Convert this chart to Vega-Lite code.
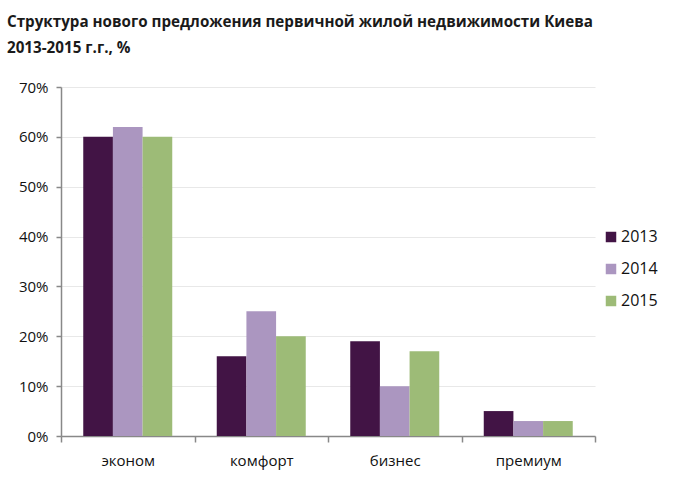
{
  "$schema": "https://vega.github.io/schema/vega-lite/v6.json",
  "autosize": "none",
  "width": 534,
  "height": 349,
  "padding": {"left": 61, "top": 87, "right": 86, "bottom": 51},
  "background": "white",
  "title": {
    "text": ["Структура нового предложения первичной жилой недвижимости Киева", "2013-2015 г.г., %"],
    "anchor": "start",
    "frame": "group",
    "dx": -54,
    "offset": 24,
    "font": "Open Sans",
    "fontSize": 15.2,
    "fontWeight": "bold",
    "color": "#1a1a1a",
    "lineHeight": 26
  },
  "config": {
    "view": {"stroke": "transparent"},
    "axis": {"labelFont": "Open Sans", "labelColor": "#111", "labelFontSize": 15, "titleFont": "Open Sans"},
    "legend": {"labelFont": "Open Sans"}
  },
  "data": {
    "values": [
      {"segment": "эконом", "year": "2013", "share": 60},
      {"segment": "эконом", "year": "2014", "share": 62},
      {"segment": "эконом", "year": "2015", "share": 60},
      {"segment": "комфорт", "year": "2013", "share": 16},
      {"segment": "комфорт", "year": "2014", "share": 25},
      {"segment": "комфорт", "year": "2015", "share": 20},
      {"segment": "бизнес", "year": "2013", "share": 19},
      {"segment": "бизнес", "year": "2014", "share": 10},
      {"segment": "бизнес", "year": "2015", "share": 17},
      {"segment": "премиум", "year": "2013", "share": 5},
      {"segment": "премиум", "year": "2014", "share": 3},
      {"segment": "премиум", "year": "2015", "share": 3}
    ]
  },
  "mark": {"type": "bar"},
  "encoding": {
    "x": {
      "field": "segment",
      "type": "nominal",
      "sort": ["эконом", "комфорт", "бизнес", "премиум"],
      "scale": {"paddingInner": 0, "paddingOuter": 0},
      "axis": {
        "title": null,
        "labelAngle": 0,
        "labelPadding": 11,
        "domainColor": "#888",
        "domainWidth": 1.5,
        "tickColor": "#888",
        "tickWidth": 1.5,
        "tickSize": 6,
        "tickBand": "extent",
        "grid": false
      }
    },
    "xOffset": {"field": "year", "type": "nominal", "scale": {"paddingInner": 0, "paddingOuter": 0.75}},
    "y": {
      "field": "share",
      "type": "quantitative",
      "scale": {"domain": [0, 70]},
      "axis": {
        "title": null,
        "values": [0, 10, 20, 30, 40, 50, 60, 70],
        "labelExpr": "datum.value + '%'",
        "labelPadding": 8,
        "domainColor": "#888",
        "domainWidth": 1.5,
        "tickColor": "#888",
        "tickWidth": 1.5,
        "tickSize": 5,
        "gridColor": "#e8e8e8",
        "gridWidth": 1.2
      }
    },
    "color": {
      "field": "year",
      "type": "nominal",
      "scale": {"domain": ["2013", "2014", "2015"], "range": ["#421445", "#ab96c0", "#9dbb77"]},
      "legend": {
        "title": null,
        "orient": "none",
        "legendX": 542,
        "legendY": 142,
        "symbolType": "square",
        "symbolSize": 110,
        "symbolStrokeWidth": 0,
        "labelFontSize": 16,
        "labelColor": "#111",
        "rowPadding": 16,
        "labelOffset": 2
      }
    }
  }
}
